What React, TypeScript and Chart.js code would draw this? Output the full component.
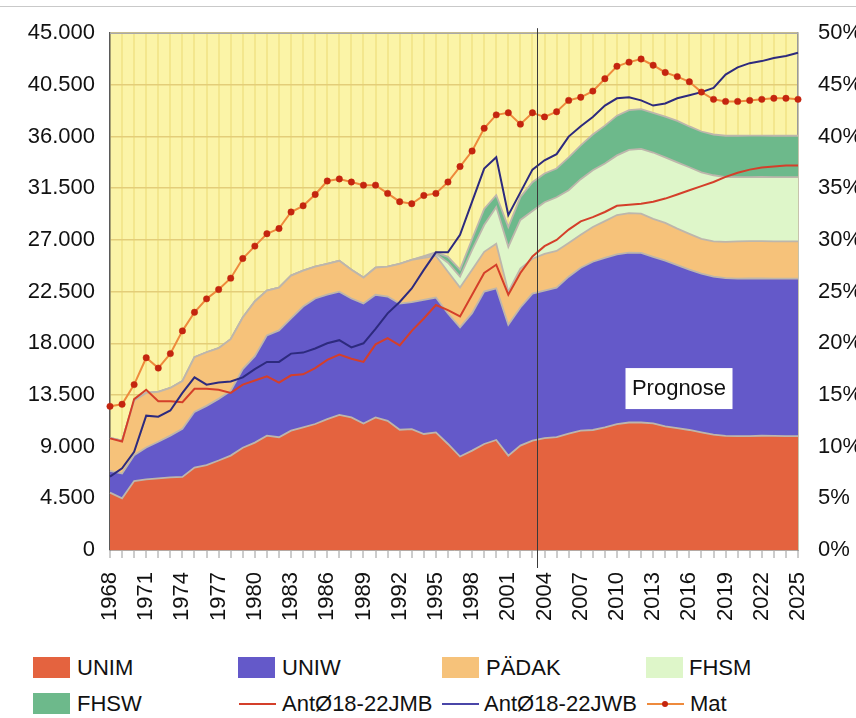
import React, { useEffect, useRef } from 'react';
import { Chart, registerables } from 'chart.js';
Chart.register(...registerables);

const years = ['1968','1969','1970','1971','1972','1973','1974','1975','1976','1977','1978','1979','1980','1981','1982','1983','1984','1985','1986','1987','1988','1989','1990','1991','1992','1993','1994','1995','1996','1997','1998','1999','2000','2001','2002','2003','2004','2005','2006','2007','2008','2009','2010','2011','2012','2013','2014','2015','2016','2017','2018','2019','2020','2021','2022','2023','2024','2025'];

const unim = [5000,4500,6000,6150,6230,6320,6360,7180,7400,7790,8220,8910,9350,9950,9820,10390,10670,10970,11400,11770,11540,11020,11540,11250,10470,10530,10100,10240,9230,8140,8650,9230,9580,8220,9090,9520,9750,9820,10130,10390,10450,10670,10970,11100,11100,11020,10760,10620,10450,10240,10040,9930,9910,9920,9950,9930,9910,9910];
const uniw = [1900,2160,2250,2770,3200,3640,4200,4850,5150,5370,5630,6840,7530,8740,9300,9780,10530,10930,10840,10730,10360,10450,10680,10820,10990,11060,11680,11740,11360,11250,11970,13270,13210,11400,12030,12810,12830,13020,13670,14190,14650,14770,14780,14800,14770,14510,14430,14190,13960,13820,13760,13740,13720,13720,13700,13700,13720,13720];
const padak = [2860,2860,4760,4760,4330,4150,4150,4760,4670,4410,4500,4500,4760,3890,3720,3720,3120,2770,2680,2680,2510,2250,2360,2600,3460,3680,3660,3640,3640,3460,3780,3460,3870,2880,3380,3030,3200,3200,2940,2860,3030,3200,3420,3440,3420,3310,3290,3170,3120,3030,3070,3160,3250,3250,3250,3250,3250,3250];
const fhsm = [0,0,0,0,0,0,0,0,0,0,0,0,0,0,0,0,0,0,0,0,0,0,0,0,0,0,100,170,780,950,1730,2340,3200,3890,4240,4150,4500,4670,4590,4850,4930,5020,5190,5500,5630,5770,5710,5770,5800,5800,5760,5630,5580,5580,5580,5580,5580,5580];
const fhsw = [0,0,0,0,0,0,0,0,0,0,0,0,0,0,0,0,0,0,0,0,0,0,0,0,0,0,50,130,520,610,950,1390,1040,1730,1990,2510,2510,2510,2860,2940,3120,3290,3460,3460,3460,3460,3550,3610,3550,3550,3550,3610,3610,3610,3610,3610,3610,3610];
const jmb = [10.8,10.5,14.6,15.5,14.4,14.4,14.3,15.6,15.6,15.5,15.2,16.0,16.4,16.8,16.2,16.9,17.0,17.6,18.4,18.9,18.5,18.2,19.9,20.5,19.8,21.2,22.4,23.7,23.2,22.6,24.7,26.8,27.6,24.7,26.8,28.4,29.4,30.0,31.0,31.8,32.2,32.7,33.3,33.4,33.5,33.7,34.0,34.4,34.8,35.2,35.6,36.1,36.5,36.8,37.0,37.1,37.2,37.2];
const jwb = [7.1,7.9,9.5,13.0,12.9,13.5,15.2,16.7,16.0,16.2,16.3,16.7,17.5,18.2,18.2,19.0,19.1,19.5,20.0,20.3,19.6,20.0,21.4,22.9,24.0,25.3,27.1,28.8,28.8,30.5,33.7,36.9,38.0,32.4,34.6,36.8,37.7,38.3,40.0,41.0,41.9,43.0,43.7,43.8,43.5,43.0,43.2,43.7,44.0,44.3,44.7,46.0,46.7,47.1,47.3,47.6,47.8,48.1];
const mat = [13.9,14.1,16.0,18.6,17.6,19.0,21.2,23.0,24.3,25.2,26.3,28.2,29.4,30.6,31.1,32.7,33.3,34.4,35.7,35.9,35.6,35.3,35.3,34.5,33.7,33.5,34.3,34.5,35.6,37.1,38.6,40.8,42.1,42.3,41.2,42.3,41.9,42.4,43.5,43.8,44.4,45.6,46.8,47.2,47.5,46.9,46.2,45.8,45.3,44.3,43.6,43.4,43.4,43.5,43.6,43.7,43.7,43.6];

const forecastIndex = 35.4;
const prognoseIndex = 47.1;
const prognoseValue = 14100;

const FONT = "'Liberation Sans', Arial, Helvetica, sans-serif";
const C_UNIM = '#E4633F';
const C_UNIW = '#6459C9';
const C_PADAK = '#F6C27A';
const C_FHSM = '#DEF6C9';
const C_FHSW = '#6DB98B';
const C_JMB = '#D43F2A';
const C_JWB = '#2D2A7E';
const C_MATLINE = '#EE8A3C';
const C_MATPT = '#C4250F';
const EDGE = '#BDB6AC';

function fmtThousands(v: number): string {
  if (v === 0) return '0';
  return String(Math.round(v)).replace(/\B(?=(\d{3})+(?!\d))/g, '.');
}

export default function App() {
  const ref = useRef<HTMLCanvasElement>(null);

  useEffect(() => {
    const canvas = ref.current;
    if (!canvas) return;

    const decor = {
      id: 'decor',
      beforeDraw(chart: any) {
        const { ctx, chartArea: a } = chart;
        ctx.save();
        ctx.fillStyle = '#FBF4A7';
        ctx.fillRect(a.left, a.top, a.right - a.left, a.bottom - a.top);
        ctx.restore();
      },
      afterDatasetsDraw(chart: any) {
        const { ctx, chartArea: a, scales } = chart;
        ctx.save();
        // top & right frame
        ctx.strokeStyle = '#A9A9A9';
        ctx.lineWidth = 1.5;
        ctx.beginPath();
        ctx.moveTo(a.left, a.top);
        ctx.lineTo(a.right, a.top);
        ctx.stroke();
        // forecast divider
        const fx = Math.round(scales.x.getPixelForValue(forecastIndex)) + 0.5;
        ctx.strokeStyle = '#3a3a3a';
        ctx.lineWidth = 1;
        ctx.beginPath();
        ctx.moveTo(fx, a.top - 5);
        ctx.lineTo(fx, a.bottom + 18);
        ctx.stroke();
        // Prognose box
        const px = scales.x.getPixelForValue(prognoseIndex);
        const py = scales.y.getPixelForValue(prognoseValue);
        ctx.fillStyle = '#ffffff';
        ctx.fillRect(px - 53, py - 20, 107, 41);
        ctx.fillStyle = '#111';
        ctx.font = `22px ${FONT}`;
        ctx.textAlign = 'center';
        ctx.textBaseline = 'middle';
        ctx.fillText('Prognose', px + 0.5, py + 1);
        ctx.restore();
      },
    };

    const area = (label: string, data: number[], color: string, fill: string | boolean) => ({
      type: 'line' as const,
      label,
      data,
      yAxisID: 'y',
      backgroundColor: color,
      borderColor: EDGE,
      borderWidth: 1.8,
      pointRadius: 0,
      fill,
      tension: 0,
      order: 10,
      stack: 'hs',
    });

    const chart = new Chart(canvas, {
      type: 'line',
      data: {
        labels: years,
        datasets: [
          area('UNIM', unim, C_UNIM, 'origin'),
          area('UNIW', uniw, C_UNIW, '-1'),
          area('PÄDAK', padak, C_PADAK, '-1'),
          area('FHSM', fhsm, C_FHSM, '-1'),
          area('FHSW', fhsw, C_FHSW, '-1'),
          {
            label: 'AntØ18-22JMB', data: jmb, yAxisID: 'y1', borderColor: C_JMB, borderWidth: 2,
            pointRadius: 0, fill: false, tension: 0, order: 2,
          },
          {
            label: 'AntØ18-22JWB', data: jwb, yAxisID: 'y1', borderColor: C_JWB, borderWidth: 2,
            pointRadius: 0, fill: false, tension: 0, order: 1,
          },
          {
            label: 'Mat', data: mat, yAxisID: 'y1', borderColor: C_MATLINE, borderWidth: 2,
            pointRadius: 3.2, pointBackgroundColor: C_MATPT, pointBorderColor: C_MATPT, pointBorderWidth: 0.5,
            fill: false, tension: 0, order: 0, clip: 6,
          },
        ] as any,
      },
      options: {
        responsive: false,
        animation: false,
        devicePixelRatio: 1,
        layout: { padding: { top: 30, left: 0, right: 0, bottom: 0 } },
        plugins: { legend: { display: false }, tooltip: { enabled: false } },
        scales: {
          x: {
            type: 'category',
            offset: false,
            afterFit: (s: any) => { s.height = 90; },
            grid: {
              display: true,
              drawOnChartArea: true,
              color: 'rgba(232,214,110,0.45)',
              lineWidth: 2,
              drawTicks: true,
              tickLength: 8,
              tickColor: '#9a9a9a',
              tickWidth: 1,
            },
            border: { display: true, color: '#b5a9a3', width: 1 },
            ticks: {
              autoSkip: false,
              minRotation: 90,
              maxRotation: 90,
              padding: 14,
              color: '#111',
              font: { family: FONT, size: 22 },
              callback: (_v: any, i: number) => (i % 3 === 0 ? years[i] : ''),
            },
          },
          y: {
            type: 'linear',
            position: 'left',
            stacked: true,
            min: 0,
            max: 45000,
            afterFit: (s: any) => { s.width = 110; },
            grid: { color: '#E3CD79', lineWidth: 1.5, drawTicks: false },
            border: { display: true, color: '#5a5a5a', width: 1.5 },
            ticks: {
              stepSize: 4500,
              padding: 15,
              color: '#111',
              font: { family: FONT, size: 22 },
              callback: (v: any) => fmtThousands(Number(v)),
            },
          },
          y1: {
            type: 'linear',
            position: 'right',
            stacked: false,
            min: 0,
            max: 50,
            afterFit: (s: any) => { s.width = 58; },
            grid: { drawOnChartArea: false, drawTicks: false },
            border: { display: true, color: '#9a9a9a', width: 1.5 },
            ticks: {
              stepSize: 5,
              padding: 20,
              color: '#111',
              font: { family: FONT, size: 22 },
              callback: (v: any) => `${v}%`,
            },
          },
        },
      } as any,
      plugins: [decor],
    });

    return () => { chart.destroy(); };
  }, []);

  const lab: React.CSSProperties = {
    position: 'absolute', fontFamily: FONT, fontSize: 22, lineHeight: '22px', color: '#111', whiteSpace: 'nowrap',
  };
  const box = (left: number, top: number, color: string) => (
    <div style={{ position: 'absolute', left, top, width: 37, height: 21, background: color }} />
  );
  const line = (left: number, top: number, color: string) => (
    <div style={{ position: 'absolute', left, top, width: 37, height: 2, background: color }} />
  );

  const r1 = 657;
  const r2 = 693;

  return (
    <div style={{ position: 'absolute', left: 0, top: 0, width: 856, height: 718, background: '#fff', overflow: 'hidden' }}>
      <div style={{ position: 'absolute', left: 0, top: 6, width: 856, height: 1, background: '#c9c9c9' }} />
      <canvas ref={ref} width={856} height={640} style={{ position: 'absolute', left: 0, top: 0, width: 856, height: 640 }} />
      {box(33, r1, C_UNIM)}
      <div style={{ ...lab, left: 77, top: r1 }}>UNIM</div>
      {box(238, r1, C_UNIW)}
      <div style={{ ...lab, left: 282, top: r1 }}>UNIW</div>
      {box(442, r1, C_PADAK)}
      <div style={{ ...lab, left: 486, top: r1 }}>PÄDAK</div>
      {box(646, r1, C_FHSM)}
      <div style={{ ...lab, left: 689, top: r1 }}>FHSM</div>

      {box(33, r2, C_FHSW)}
      <div style={{ ...lab, left: 77, top: r2 }}>FHSW</div>
      {line(239, r2 + 10, C_JMB)}
      <div style={{ ...lab, left: 282, top: r2 }}>AntØ18-22JMB</div>
      {line(442, r2 + 10, '#4a46a8')}
      <div style={{ ...lab, left: 484, top: r2 }}>AntØ18-22JWB</div>
      {line(647, r2 + 10, C_MATLINE)}
      <div style={{ position: 'absolute', left: 662, top: r2 + 8, width: 6, height: 6, borderRadius: 3, background: C_MATPT }} />
      <div style={{ ...lab, left: 690, top: r2 }}>Mat</div>
    </div>
  );
}
